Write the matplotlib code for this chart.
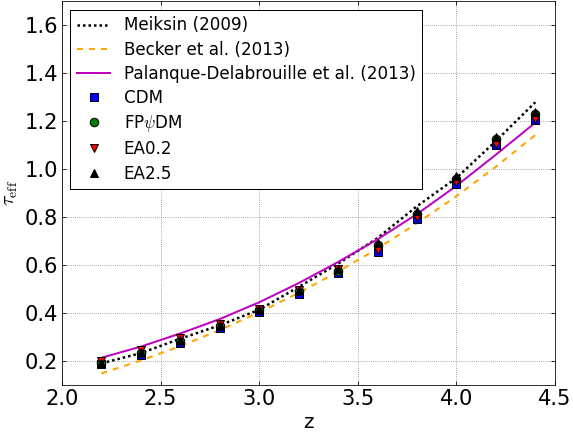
import numpy as np
import matplotlib
matplotlib.use("Agg")
import matplotlib.pyplot as plt

plt.rcParams['mathtext.fontset'] = 'cm'
plt.rcParams['font.family'] = ['DejaVu Sans']

# redshifts of the simulation outputs / fit curves
z = [2.2, 2.4, 2.6, 2.8, 3.0, 3.2, 3.4, 3.6, 3.8, 4.0, 4.2, 4.4]

# observational fits of the effective optical depth
tau_meiksin = [0.189, 0.232, 0.292, 0.348, 0.413, 0.508, 0.605, 0.712, 0.845, 0.963, 1.117, 1.279]
tau_becker = [0.147, 0.201, 0.261, 0.328, 0.402, 0.483, 0.572, 0.668, 0.774, 0.887, 1.010, 1.142]
tau_palanque = [0.2125, 0.259, 0.314, 0.374, 0.444, 0.524, 0.612, 0.707, 0.812, 0.930, 1.060, 1.194]

# simulated values for each dark matter model
tau_cdm = [0.186, 0.225, 0.274, 0.336, 0.402, 0.480, 0.566, 0.656, 0.791, 0.937, 1.101, 1.206]
tau_fp = [0.190, 0.232, 0.284, 0.344, 0.410, 0.490, 0.576, 0.684, 0.812, 0.960, 1.125, 1.230]
tau_ea02 = [0.200, 0.244, 0.293, 0.354, 0.416, 0.496, 0.582, 0.663, 0.800, 0.948, 1.105, 1.210]
tau_ea25 = [0.192, 0.236, 0.288, 0.348, 0.414, 0.494, 0.585, 0.690, 0.823, 0.973, 1.136, 1.240]

fig = plt.figure(figsize=(573 / 72.0, 432 / 72.0), dpi=72)
ax = fig.add_axes([62 / 573.0, 47.3 / 432.0, 493 / 573.0, 383.3 / 432.0])

ax.plot(z, tau_meiksin, color='k', ls=(0, (1.0, 1.2)), lw=2.5, label='Meiksin (2009)')
ax.plot(z, tau_becker, color='orange', ls=(0, (3, 3)), lw=2, label='Becker et al. (2013)')
ax.plot(z, tau_palanque, '-', color='m', lw=2, label='Palanque-Delabrouille et al. (2013)')

ax.plot(z, tau_cdm, 's', color='b', mec='k', ms=8.5, label='CDM')
ax.plot(z, tau_fp, 'o', color='g', mec='k', ms=8.5, label=r'FP$\psi$DM')
ax.plot(z, tau_ea02, 'v', color='r', mec='k', ms=8.5, label='EA0.2')
ax.plot(z, tau_ea25, '^', color='k', mec='k', ms=8.5, label='EA2.5')

ax.set_xlim(2.0, 4.5)
ax.set_ylim(0.1, 1.7)
ax.set_xticks([2.0, 2.5, 3.0, 3.5, 4.0, 4.5])
ax.set_yticks([0.2, 0.4, 0.6, 0.8, 1.0, 1.2, 1.4, 1.6])
ax.tick_params(direction='in', top=True, right=True, length=4, labelsize=21, pad=4)
ax.grid(True, color='0.35', ls=(0, (1, 2)), lw=0.7)

ax.set_xlabel('z', fontsize=20)
ax.set_ylabel(r'$\tau_{\rm eff}$', fontsize=20)

leg = ax.legend(loc='upper left', numpoints=1, fontsize=16.7, fancybox=False,
                labelspacing=0.37, handlelength=2.0, handletextpad=0.8,
                borderaxespad=0.5, framealpha=1)
leg.get_frame().set_edgecolor('k')

fig.savefig('out.png', dpi=72)
